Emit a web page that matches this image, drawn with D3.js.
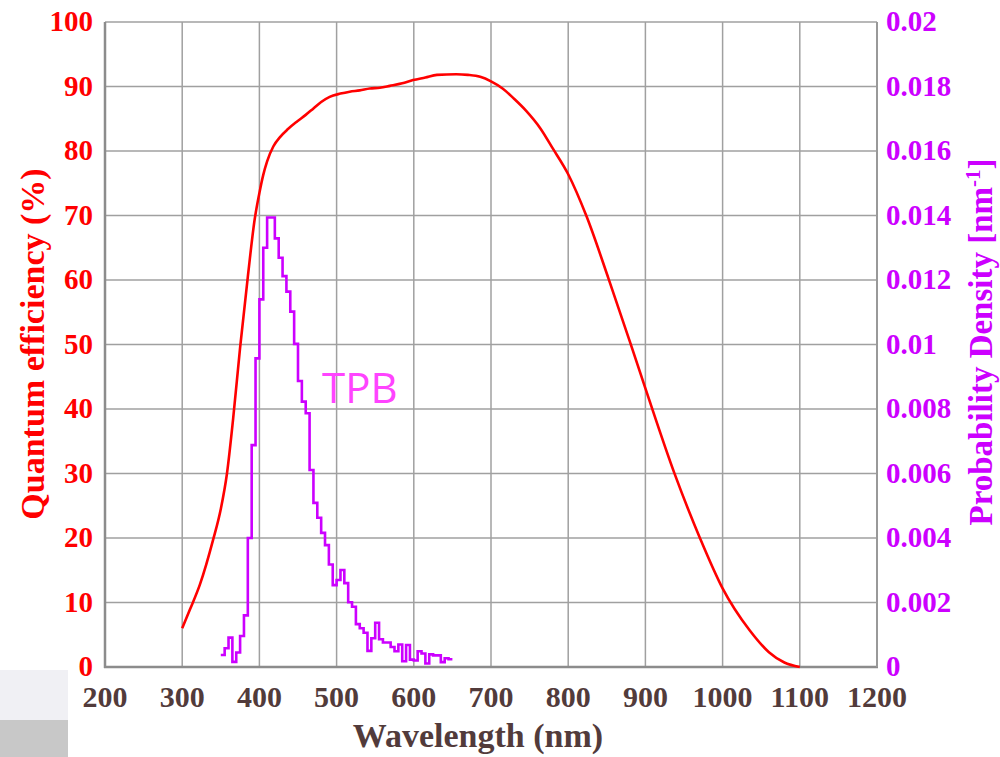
<!DOCTYPE html>
<html>
<head>
<meta charset="utf-8">
<script src="https://cdn.jsdelivr.net/npm/d3@7"></script>
<style>
  body { margin: 0; background: #fff; }
  svg { display: block; }
</style>
</head>
<body>
<div id="chart"></div>
<script>
// quantum efficiency curve (nm, %)
const wavelength = [300, 310, 323, 340, 350, 358, 366, 375, 385, 394, 400, 405, 410, 418, 427, 437, 448, 460, 470, 480, 491, 505, 517, 530, 543, 556, 569, 585, 599, 615, 630, 655, 670, 686, 700, 715, 729, 745, 764, 780, 800, 824, 852, 880, 900, 938, 971, 1000, 1035, 1060, 1080, 1100];
const efficiency = [6.0, 8.9, 12.8, 19.7, 24.5, 30.0, 38.5, 49.5, 60.5, 69.5, 73.5, 76.3, 78.4, 80.7, 82.2, 83.4, 84.5, 85.6, 86.6, 87.6, 88.4, 88.9, 89.2, 89.4, 89.7, 89.8, 90.1, 90.5, 91.0, 91.4, 91.8, 91.9, 91.8, 91.5, 90.8, 89.7, 88.2, 86.3, 83.5, 80.4, 76.4, 69.8, 60.3, 50.4, 43.2, 29.9, 19.9, 12.2, 5.7, 2.3, 0.7, 0];

// TPB emission histogram, 5 nm bins (bin start in nm, density in 1/nm)
const tpbBins = d3.range(350, 650, 5);
const tpbDensity = [0.00037, 0.00058, 0.00091, 0.00016, 0.00045, 0.00096, 0.00160, 0.00400, 0.00688, 0.00957,
  0.01140, 0.01300, 0.01394, 0.01394, 0.01329, 0.01269, 0.01212, 0.01164, 0.01102, 0.01002,
  0.00887, 0.00823, 0.00787, 0.00611, 0.00509, 0.00463, 0.00416, 0.00378, 0.00318, 0.00254,
  0.00270, 0.00301, 0.00260, 0.00201, 0.00187, 0.00133, 0.00120, 0.00106, 0.00050, 0.00089,
  0.00137, 0.00086, 0.00076, 0.00076, 0.00062, 0.00049, 0.00070, 0.00018, 0.00068, 0.00023,
  0.00020, 0.00049, 0.00042, 0.00011, 0.00039, 0.00036, 0.00036, 0.00015, 0.00027, 0.00024];
const binWidth = 5;

const xTicks = d3.range(200, 1201, 100);
const qeTicks = d3.range(0, 101, 10);
const densityTicks = d3.range(11).map(i => i * 0.002);

const width = 1000, height = 757;
const plotLeft = 105, plotRight = 877, plotTop = 22, plotBottom = 667;

const svg = d3.select("#chart")
    .append("svg")
    .attr("width", width)
    .attr("height", height);

// grey blocks in the lower left corner
svg.append("rect").attr("x", 0).attr("y", 670).attr("width", 68).attr("height", 50).attr("fill", "#f0f0f4");
svg.append("rect").attr("x", 0).attr("y", 720).attr("width", 68).attr("height", 37).attr("fill", "#c8c8c8");

const x = d3.scaleLinear().domain([200, 1200]).range([plotLeft, plotRight]);
const yQE = d3.scaleLinear().domain([0, 100]).range([plotBottom, plotTop]);
const yPD = d3.scaleLinear().domain([0, 0.02]).range([plotBottom, plotTop]);

// grid
const grid = svg.append("g");
grid.selectAll("line.v")
    .data(xTicks)
    .join("line")
    .attr("class", "v")
    .attr("x1", d => x(d)).attr("x2", d => x(d))
    .attr("y1", plotTop).attr("y2", plotBottom)
    .attr("stroke", "#a0a0a0").attr("stroke-width", 1.5);
grid.selectAll("line.h")
    .data(qeTicks)
    .join("line")
    .attr("class", "h")
    .attr("x1", plotLeft).attr("x2", plotRight)
    .attr("y1", d => yQE(d)).attr("y2", d => yQE(d))
    .attr("stroke", "#a0a0a0").attr("stroke-width", 1.5);

// frame: left and bottom heavier
svg.append("line").attr("x1", plotLeft).attr("x2", plotLeft).attr("y1", plotTop).attr("y2", plotBottom + 1)
    .attr("stroke", "#8c8c8c").attr("stroke-width", 2.5);
svg.append("line").attr("x1", plotLeft - 1).attr("x2", plotRight + 1).attr("y1", plotBottom).attr("y2", plotBottom)
    .attr("stroke", "#8c8c8c").attr("stroke-width", 2.5);
svg.append("line").attr("x1", plotRight).attr("x2", plotRight).attr("y1", plotTop).attr("y2", plotBottom)
    .attr("stroke", "#999").attr("stroke-width", 2);

const serif = "'Liberation Serif', 'Times New Roman', serif";

// tick labels
svg.append("g").selectAll("text")
    .data(qeTicks)
    .join("text")
    .attr("x", 93)
    .attr("y", d => yQE(d))
    .attr("dy", "0.32em")
    .attr("text-anchor", "end")
    .attr("font-family", serif).attr("font-weight", "bold").attr("font-size", 29)
    .attr("fill", "#ff0000")
    .text(d => d);

svg.append("g").selectAll("text")
    .data(densityTicks)
    .join("text")
    .attr("x", 886)
    .attr("y", d => yPD(d))
    .attr("dy", "0.32em")
    .attr("font-family", serif).attr("font-weight", "bold").attr("font-size", 29)
    .attr("fill", "#cc00ff")
    .text(d => d === 0 ? "0" : String(+d.toFixed(3)));

svg.append("g").selectAll("text")
    .data(xTicks)
    .join("text")
    .attr("x", d => x(d))
    .attr("y", 707)
    .attr("text-anchor", "middle")
    .attr("font-family", serif).attr("font-weight", "bold").attr("font-size", 30)
    .attr("fill", "#523b3b")
    .text(d => d);

// axis titles
svg.append("text")
    .attr("x", 478).attr("y", 747)
    .attr("text-anchor", "middle")
    .attr("font-family", serif).attr("font-weight", "bold").attr("font-size", 34)
    .attr("fill", "#523b3b")
    .text("Wavelength (nm)");

svg.append("text")
    .attr("transform", "translate(44,344) rotate(-90)")
    .attr("text-anchor", "middle")
    .attr("font-family", serif).attr("font-weight", "bold").attr("font-size", 34)
    .attr("fill", "#ff0000")
    .text("Quantum efficiency (%)");

const pdTitle = svg.append("text")
    .attr("transform", "translate(992,342) rotate(-90)")
    .attr("text-anchor", "middle")
    .attr("font-family", serif).attr("font-weight", "bold").attr("font-size", 33)
    .attr("fill", "#cc00ff");
pdTitle.append("tspan").text("Probability Density [nm");
pdTitle.append("tspan").attr("font-size", 21).attr("dy", -12).text("-1");
pdTitle.append("tspan").attr("dy", 12).text("]");

// QE curve
const qeLine = d3.line()
    .x((d, i) => x(wavelength[i]))
    .y(d => yQE(d))
    .curve(d3.curveMonotoneX);
svg.append("path")
    .attr("d", qeLine(efficiency))
    .attr("fill", "none")
    .attr("stroke", "#ff0000")
    .attr("stroke-width", 2.6);

// TPB histogram as steps
const steps = tpbBins.map((b, i) => [b, tpbDensity[i]]);
steps.push([tpbBins[tpbBins.length - 1] + binWidth, tpbDensity[tpbDensity.length - 1]]);
const stepLine = d3.line()
    .x(d => x(d[0]))
    .y(d => yPD(d[1]))
    .curve(d3.curveStepAfter);
svg.append("path")
    .attr("d", stepLine(steps))
    .attr("fill", "none")
    .attr("stroke", "#cc00ff")
    .attr("stroke-width", 2.6);

svg.append("text")
    .attr("x", 322).attr("y", 403)
    .attr("font-family", "'Open Sans', sans-serif").attr("font-size", 42)
    .attr("fill", "#ff44ff")
    .text("TPB");
</script>
</body>
</html>
